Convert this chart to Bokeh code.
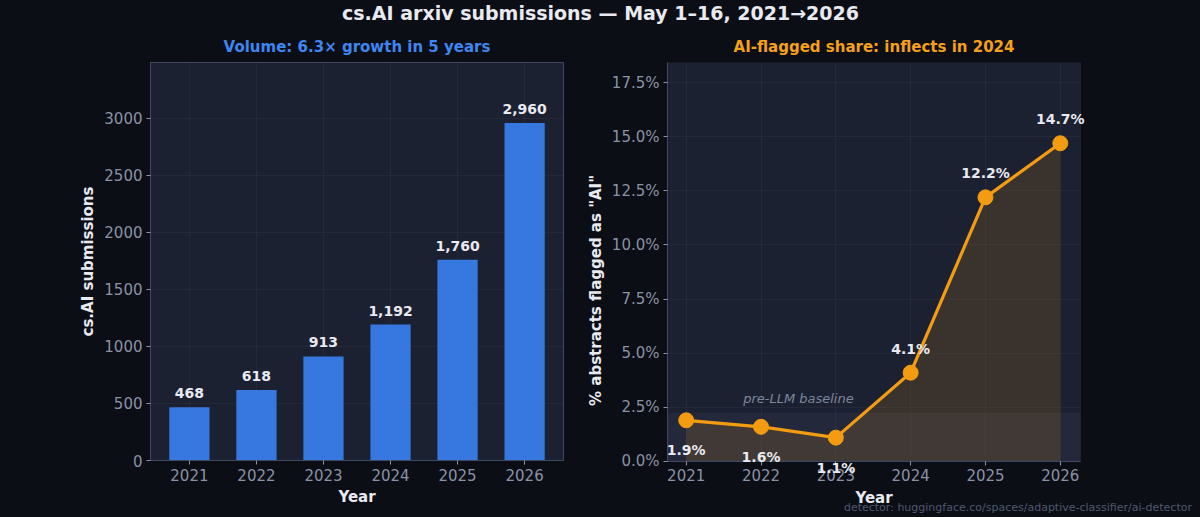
from bokeh.plotting import figure
from bokeh.layouts import column, row
from bokeh.models import (ColumnDataSource, FixedTicker, PrintfTickFormatter, Label,
                          BoxAnnotation, Range1d, LabelSet)
from bokeh.embed import file_html
from bokeh.resources import INLINE
from bokeh.core.properties import value

# ---------------- data ----------------
years = [2021, 2022, 2023, 2024, 2025, 2026]
submissions = [468, 618, 913, 1192, 1760, 2960]
submission_labels = ["468", "618", "913", "1,192", "1,760", "2,960"]
ai_share = [1.9, 1.6, 1.1, 4.1, 12.2, 14.7]
ai_share_labels = ["1.9%", "1.6%", "1.1%", "4.1%", "12.2%", "14.7%"]
left_yticks = [0, 500, 1000, 1500, 2000, 2500, 3000]
right_yticks = [0, 2.5, 5.0, 7.5, 10.0, 12.5, 15.0, 17.5]
baseline_top = 2.25
llm_year = 2024

title_text = "cs.AI arxiv submissions \u2014 May 1\u201316, 2021\u21922026"
left_title = "Volume: 6.3\u00d7 growth in 5 years"
right_title = "AI-flagged share: inflects in 2024"
footer_text = "detector: huggingface.co/spaces/adaptive-classifier/ai-detector"

# axis extents
L_X = (2020.42, 2026.58)
L_Y = (0, 3490)
R_X = (2020.75, 2026.27)
R_Y = (0, 18.43)
R_X_VIEW = (2020.75, 2027.874)   # frame runs on to the right edge of the canvas
R_Y_VIEW = (-2.636, 18.43)       # frame runs on below 0 so labels under the axis stay visible
AXIS_RESERVE = 58                # space Bokeh keeps under a fixed-location axis

# ---------------- style ----------------
FONT = "DejaVu Sans"
BG = "#0b0e15"
PANEL = "#1c2132"
FRAME = "#3f4862"
TICK = "#8a92a6"
LABEL = "#e8eaf0"
BLUE = "#3778e0"
BLUE_T = "#3f86f0"
ORANGE = "#f39c12"
ORANGE_T = "#f5a01a"


def style(p):
    p.background_fill_color = PANEL
    p.border_fill_color = BG
    p.outline_line_color = FRAME
    p.outline_line_width = 1
    for ax in (p.xaxis[0], p.yaxis[0]):
        ax.axis_line_color = FRAME
        ax.major_tick_line_color = TICK
        ax.major_tick_out = 4
        ax.major_tick_in = 0
        ax.minor_tick_line_color = None
        ax.major_label_text_color = TICK
        ax.major_label_text_font = FONT
        ax.major_label_text_font_size = "15px"
        ax.major_label_standoff = 4
        ax.axis_label_text_color = LABEL
        ax.axis_label_text_font = FONT
        ax.axis_label_text_font_size = "15px"
        ax.axis_label_text_font_style = "bold"
        ax.axis_label_standoff = 4
    p.grid.grid_line_color = "#ffffff"
    p.grid.grid_line_alpha = 0.035


# ---------------- title strip (suptitle + both panel titles) ----------------
pt = figure(width=1200, height=56, x_range=Range1d(0, 1200), y_range=Range1d(0, 56),
            output_backend="svg", toolbar_location=None, min_border=0)
pt.axis.visible = False
pt.grid.visible = False
pt.outline_line_color = None
pt.background_fill_color = BG
pt.border_fill_color = BG
pt.text(x=[600], y=[43.5], text=[title_text], text_align="center", text_baseline="middle",
        text_font=value(FONT), text_font_size="19px", text_font_style="bold", text_color=LABEL)
pt.text(x=[356.5, 873.5], y=[10, 10], text=[left_title, right_title],
        text_color=[BLUE_T, ORANGE_T], text_align="center", text_baseline="middle",
        text_font=value(FONT), text_font_size="15px", text_font_style="bold")

# ---------------- left: volume bars ----------------
p1 = figure(width=575, height=461, x_range=Range1d(*L_X), y_range=Range1d(*L_Y),
            output_backend="svg", toolbar_location=None,
            min_border_left=150, min_border_right=12, min_border_top=6, min_border_bottom=57,
            x_axis_label="Year", y_axis_label="cs.AI submissions")
style(p1)
p1.xaxis.ticker = FixedTicker(ticks=years)
p1.yaxis.ticker = FixedTicker(ticks=left_yticks)
p1.xgrid.ticker = FixedTicker(ticks=years)

src1 = ColumnDataSource(dict(x=years, top=submissions, lab=submission_labels))
p1.vbar(x="x", top="top", width=0.6, source=src1, fill_color=BLUE, line_color=None)
p1.add_layout(LabelSet(x="x", y="top", text="lab", source=src1, y_offset=9,
                       text_align="center", text_baseline="bottom", text_font=value(FONT),
                       text_font_size="14px", text_font_style="bold", text_color=LABEL))

# ---------------- right: AI share line ----------------
p2 = figure(width=625, height=461 + AXIS_RESERVE, x_range=Range1d(*R_X_VIEW), y_range=Range1d(*R_Y_VIEW),
            output_backend="svg", toolbar_location=None,
            min_border_left=92, min_border_right=0, min_border_top=6, min_border_bottom=0,
            x_axis_label="Year", y_axis_label='% abstracts flagged as "AI"',
            margin=(0, 0, -AXIS_RESERVE, 0))
style(p2)
p2.background_fill_color = BG
p2.outline_line_color = None
p2.xaxis.fixed_location = 0
p2.xaxis.bounds = R_X
p2.yaxis.bounds = R_Y
p2.xaxis.ticker = FixedTicker(ticks=years)
p2.yaxis.ticker = FixedTicker(ticks=right_yticks)
p2.xgrid.ticker = FixedTicker(ticks=years)
p2.yaxis.formatter = PrintfTickFormatter(format="%.1f%%")

# plot area panel (the data part of the extended frame)
p2.add_layout(BoxAnnotation(left=R_X[0], right=R_X[1], bottom=R_Y[0], top=R_Y[1],
                            fill_color=PANEL, fill_alpha=1.0, line_color=None, level="image"))
# hide grid lines outside the plot area
p2.add_layout(BoxAnnotation(top=R_Y[0], fill_color=BG, fill_alpha=1.0, line_color=None,
                            level="underlay"))
p2.add_layout(BoxAnnotation(left=R_X[1], fill_color=BG, fill_alpha=1.0, line_color=None,
                            level="underlay"))
p2.add_layout(BoxAnnotation(left=R_X[0], right=R_X[1], bottom=0, top=baseline_top,
                            fill_color="#9aa8c8", fill_alpha=0.06, line_color=None,
                            level="underlay"))
p2.add_layout(BoxAnnotation(left=R_X[0], right=R_X[1], bottom=R_Y[0], top=R_Y[1],
                            fill_color=None, line_color=FRAME, line_width=1, level="underlay"))

src2 = ColumnDataSource(dict(x=years, y=ai_share, lab=ai_share_labels))
p2.varea(x="x", y1=0, y2="y", source=src2, fill_color=ORANGE, fill_alpha=0.14)
p2.line(x="x", y="y", source=src2, line_color=ORANGE, line_width=3.2)
p2.scatter(x="x", y="y", source=src2, size=15, fill_color=ORANGE, line_color=ORANGE)

pre = [i for i, yr in enumerate(years) if yr < llm_year]
post = [i for i, yr in enumerate(years) if yr >= llm_year]
src_pre = ColumnDataSource(dict(x=[years[i] for i in pre], y=[ai_share[i] for i in pre],
                                lab=[ai_share_labels[i] for i in pre]))
src_post = ColumnDataSource(dict(x=[years[i] for i in post], y=[ai_share[i] for i in post],
                                 lab=[ai_share_labels[i] for i in post]))
for s, off in ((src_pre, -30), (src_post, 24)):
    p2.add_layout(LabelSet(x="x", y="y", text="lab", source=s, y_offset=off,
                           text_align="center", text_baseline="middle", text_font=value(FONT),
                           text_font_size="14px", text_font_style="bold", text_color=LABEL))

p2.add_layout(Label(x=2022.5, y=2.9, text="pre-LLM baseline", text_align="center",
                    text_baseline="middle", text_font=FONT, text_font_size="13px",
                    text_font_style="italic", text_color="#7d869b"))
p2.add_layout(Label(x=2027.76, y=-2.13, text=footer_text, text_align="right",
                    text_baseline="middle", text_font=FONT, text_font_size="11px",
                    text_color="#4f5870"))

layout = column(pt, row(p1, p2, spacing=0), spacing=0, styles={"background-color": BG})

html = file_html(layout, INLINE)
html = html.replace("</head>",
                    "<style>html,body{background:%s;overflow:hidden;}</style></head>" % BG)
open("out.html", "w").write(html)
